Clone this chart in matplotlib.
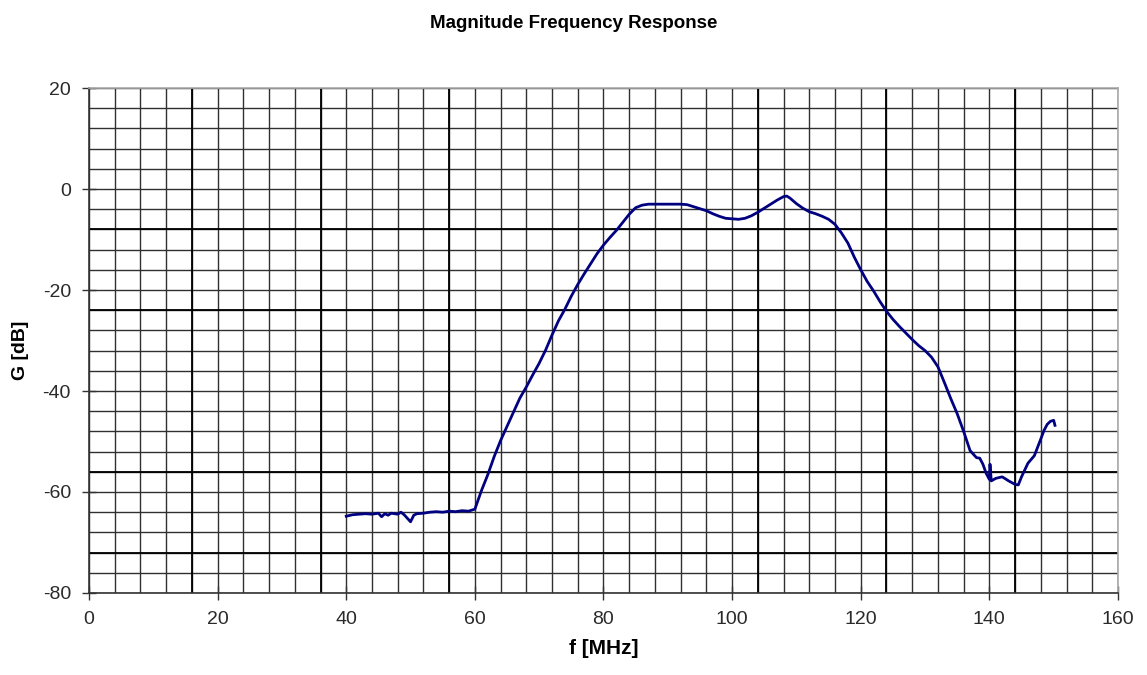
import matplotlib

matplotlib.use("Agg")
import matplotlib.pyplot as plt  # noqa: E402
from matplotlib.ticker import MultipleLocator  # noqa: E402

freq_mhz = [
    40, 41, 42, 43, 44, 45, 45.5, 46, 46.5, 47, 48, 48.5, 49, 49.5, 50, 50.5,
    51, 52, 53, 54, 55, 56, 57, 58, 59, 60, 61, 62, 63, 64, 65, 66, 67, 68,
    69, 70, 71, 72, 73, 74, 75, 76, 77, 78, 79, 80, 81, 82, 83, 84, 85, 86,
    87, 88, 90, 92, 93, 94, 95, 96, 97, 98, 99, 100, 101, 102, 103, 104, 105,
    106, 107, 108, 108.5, 109, 110, 111, 112, 113, 114, 115, 116, 117, 118,
    119, 120, 121, 122, 123, 124, 125, 126, 127, 128, 129, 130, 131, 132, 133,
    134, 135, 136, 137, 138, 138.5, 139, 139.5, 140, 140.1, 140.3, 141, 142,
    143, 144, 144.5, 145, 146, 147, 148, 148.5, 149, 149.5, 150, 150.2,
]
gain_db = [
    -64.8, -64.5, -64.4, -64.3, -64.4, -64.2, -64.9, -64.3, -64.6, -64.2,
    -64.4, -64.0, -64.5, -65.2, -65.9, -64.6, -64.3, -64.2, -64.0, -63.9,
    -64.0, -63.8, -63.9, -63.7, -63.8, -63.4, -59.8, -56.6, -53.0, -49.8,
    -47.0, -44.2, -41.4, -39.2, -36.8, -34.5, -31.9, -28.9, -26.1, -23.8,
    -21.2, -18.9, -16.8, -14.8, -12.8, -11.1, -9.6, -8.2, -6.6, -5.0, -3.7,
    -3.2, -3.0, -3.0, -3.0, -3.0, -3.1, -3.5, -3.9, -4.3, -4.9, -5.4, -5.8,
    -5.9, -6.0, -5.8, -5.3, -4.6, -3.8, -3.0, -2.2, -1.5, -1.4, -1.8, -2.9,
    -3.8, -4.5, -4.9, -5.4, -6.0, -7.0, -8.7, -10.7, -13.5, -16.0, -18.3,
    -20.2, -22.3, -24.2, -25.8, -27.2, -28.5, -29.8, -31.0, -32.0, -33.3,
    -35.2, -38.3, -41.5, -44.5, -48.0, -51.8, -53.2, -53.3, -54.5, -56.3,
    -57.5, -54.5, -57.8, -57.3, -57.0, -57.8, -58.5, -58.6, -57.0, -54.3,
    -52.8, -49.5, -47.8, -46.6, -46.0, -45.8, -46.8,
]

# grid lines that print a bit darker in the original
heavy_x = [16, 36, 56, 104, 124, 144]
heavy_y = [-8, -24, -56, -72]

plt.rcParams["font.family"] = ["Liberation Sans", "DejaVu Sans"]
plt.rcParams["axes.unicode_minus"] = False

fig = plt.figure(figsize=(11.47, 6.75), dpi=100)
ax = fig.add_axes([0.0776, 0.1215, 0.8971, 0.7481])

ax.set_xlim(0, 160)
ax.set_ylim(-80, 20)
ax.xaxis.set_major_locator(MultipleLocator(20))
ax.yaxis.set_major_locator(MultipleLocator(20))
ax.xaxis.set_minor_locator(MultipleLocator(4))
ax.yaxis.set_minor_locator(MultipleLocator(4))
ax.grid(True, which="both", color="#303030", linewidth=1.0)
for v in heavy_x:
    ax.axvline(v, color="black", linewidth=1.3, zorder=1)
for v in heavy_y:
    ax.axhline(v, color="black", linewidth=1.3, zorder=1)
ax.set_axisbelow(True)

ax.plot(freq_mhz, gain_db, color="#000080", linewidth=2.0, zorder=3)

ax.tick_params(which="major", direction="inout", length=10, width=1.0,
               color="#333333", labelsize=14, labelcolor="#2a2a2a", pad=8)
ax.tick_params(which="minor", length=0)
ax.spines["left"].set_color("#333333")
ax.spines["bottom"].set_color("#333333")
ax.spines["top"].set_color("#aaaaaa")
ax.spines["right"].set_color("#aaaaaa")
for s in ax.spines.values():
    s.set_linewidth(1.2)

ax.set_xlabel("f [MHz]", fontsize=15, fontweight="bold", labelpad=8)
ax.set_ylabel("G [dB]", fontsize=14, fontweight="bold", labelpad=6)
ax.yaxis.set_label_coords(-0.058, 0.48)
fig.text(0.5, 0.965, "Magnitude Frequency Response", ha="center", va="center",
         fontsize=13.5, fontweight="bold")

fig.savefig("out.png", dpi=100)
